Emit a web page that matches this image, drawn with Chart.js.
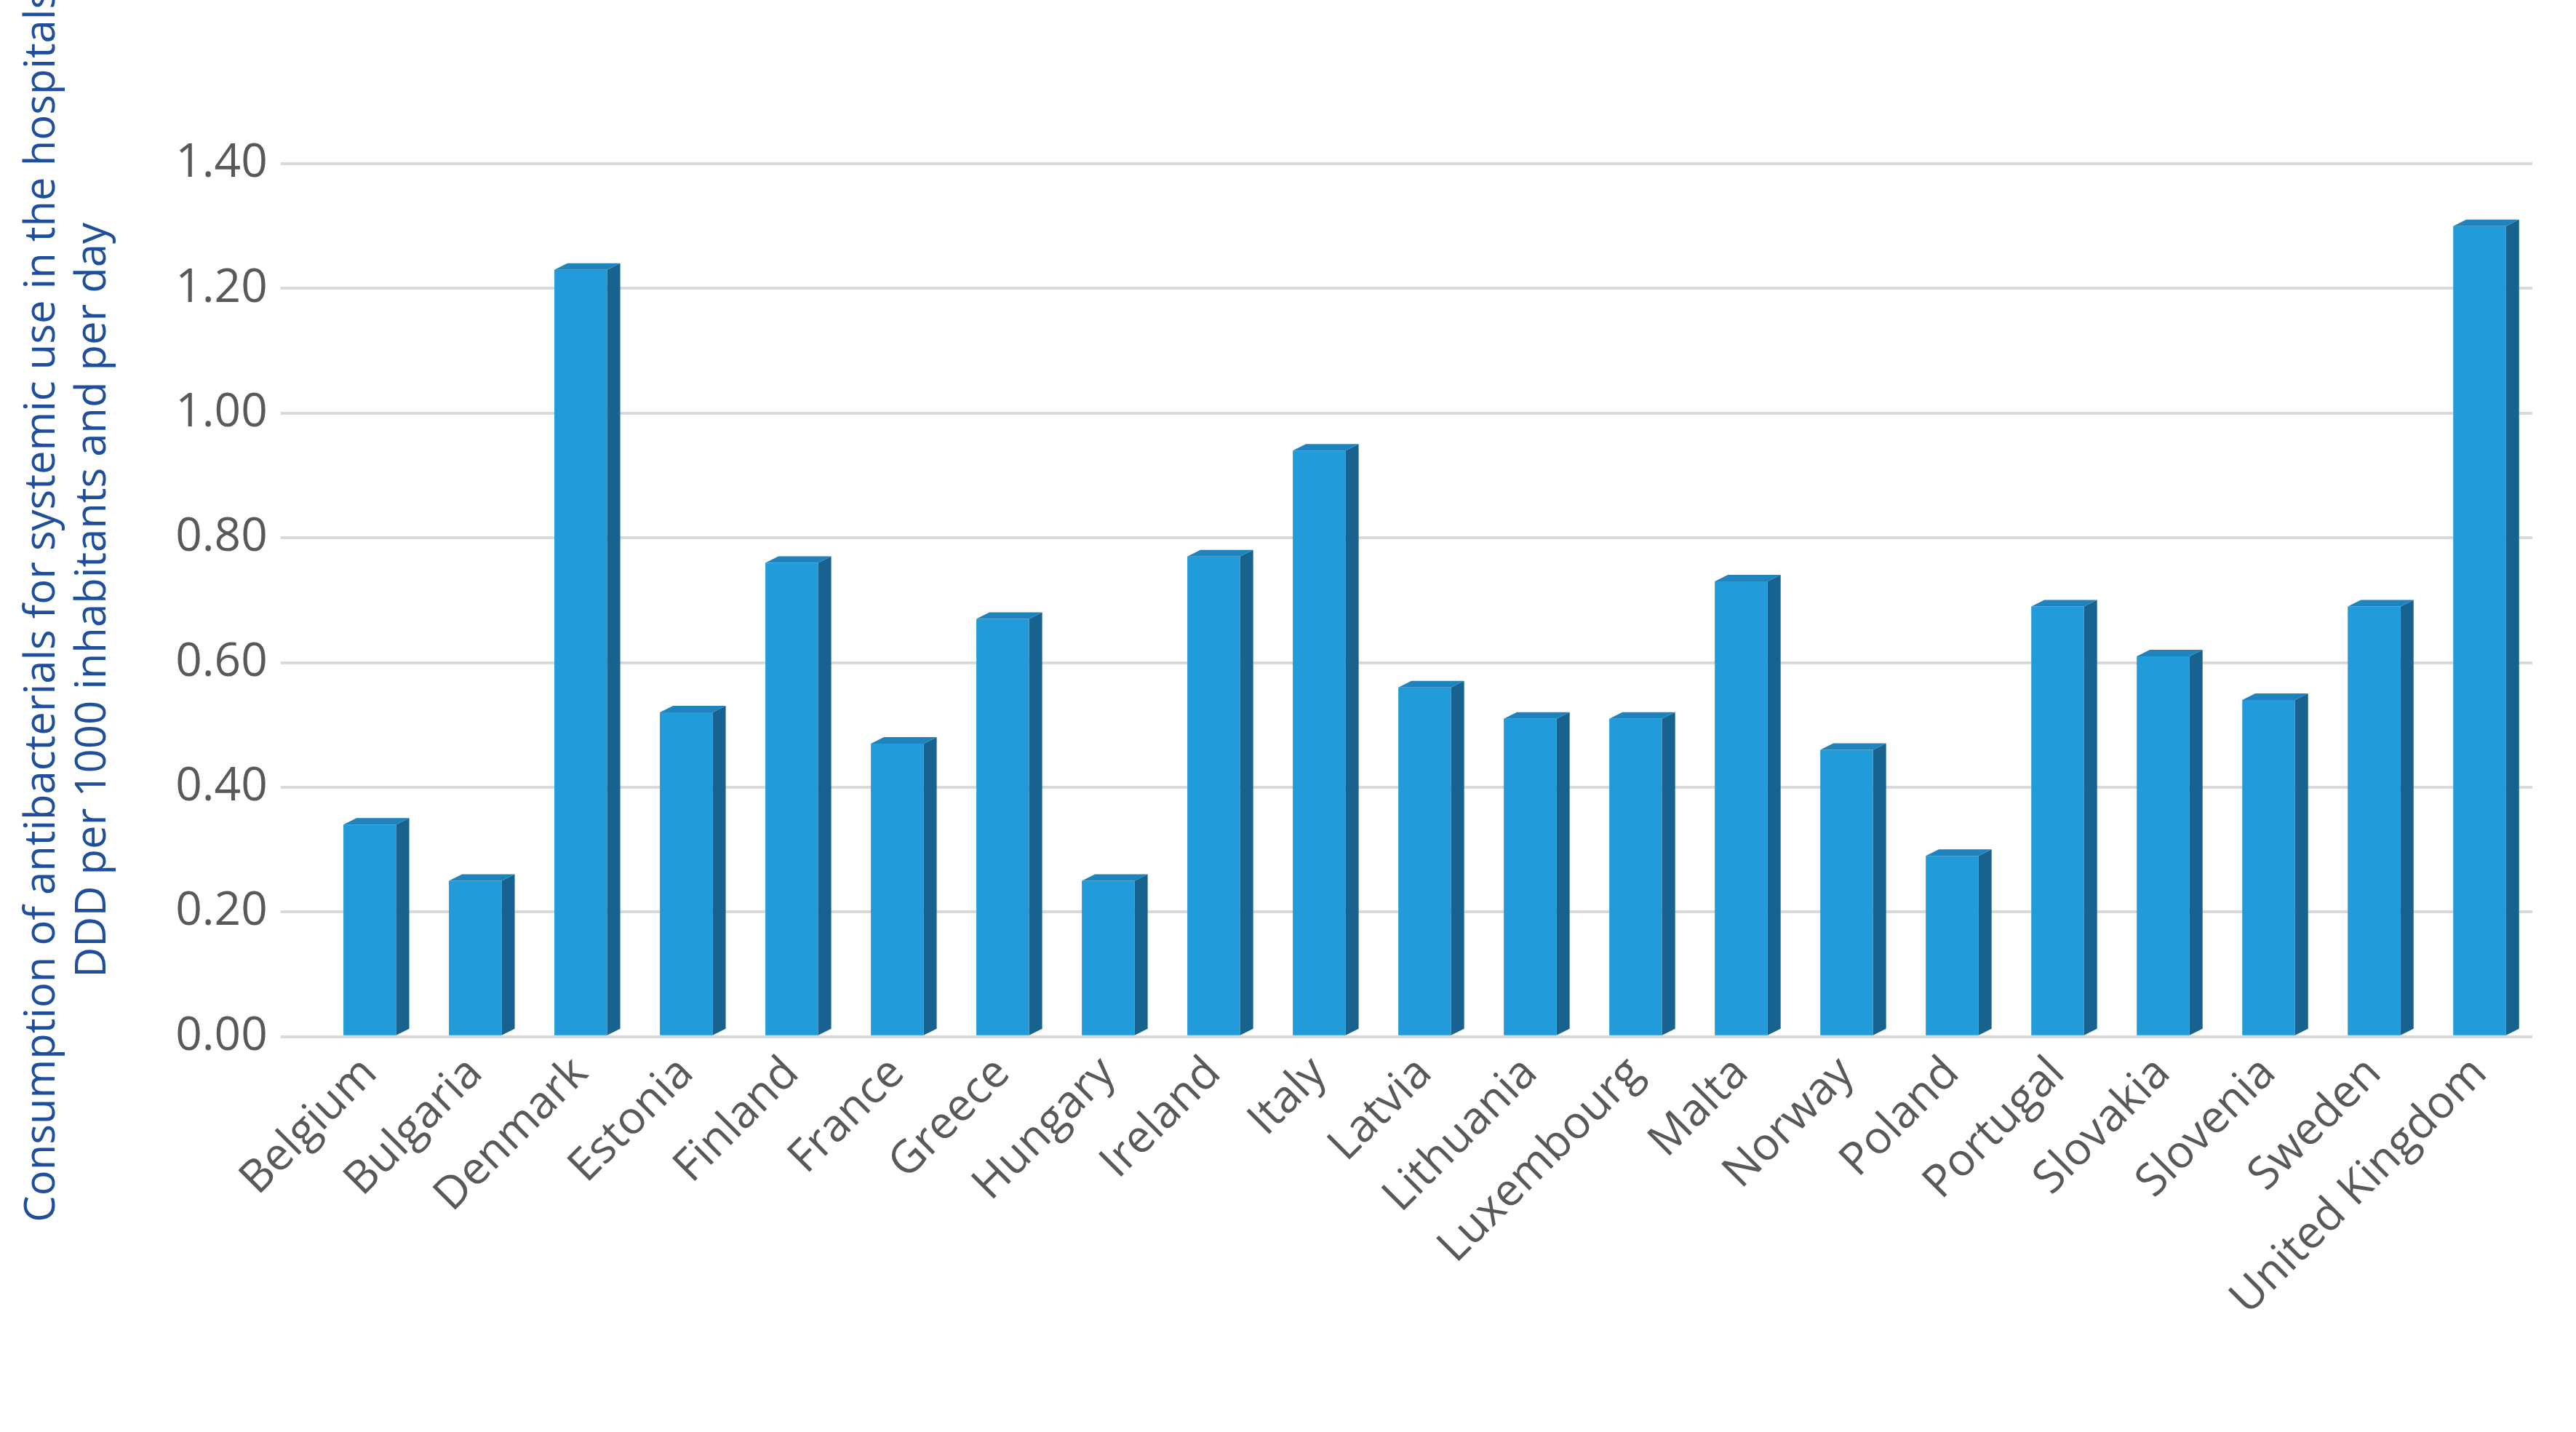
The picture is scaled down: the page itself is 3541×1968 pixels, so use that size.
<!DOCTYPE html>
<html><head><meta charset="utf-8">
<script src="https://cdn.jsdelivr.net/npm/chart.js@4/dist/chart.umd.min.js"></script>
<style>html,body{margin:0;background:#fff}#w{width:3541px;height:1968px}</style>
</head><body><div id="w"><canvas id="c"></canvas></div>
<script>
const categories=["Belgium","Bulgaria","Denmark","Estonia","Finland","France","Greece","Hungary","Ireland","Italy","Latvia","Lithuania","Luxembourg","Malta","Norway","Poland","Portugal","Slovakia","Slovenia","Sweden","United Kingdom"];
const values=[0.34,0.25,1.23,0.52,0.76,0.47,0.67,0.25,0.77,0.94,0.56,0.51,0.51,0.73,0.46,0.29,0.69,0.61,0.54,0.69,1.30];
const yTicks=[0,0.2,0.4,0.6,0.8,1.0,1.2,1.4];
const D=18;
const bar3d={id:'bar3d',afterDatasetsDraw(ch){const ctx=ch.ctx;ch.getDatasetMeta(0).data.forEach(b=>{const w=b.width,l=b.x-w/2,r=b.x+w/2,t=b.y,bt=b.base;ctx.save();ctx.fillStyle='#17628f';ctx.beginPath();ctx.moveTo(r,t);ctx.lineTo(r+D,t-D*0.5);ctx.lineTo(r+D,bt-D*0.5);ctx.lineTo(r,bt);ctx.closePath();ctx.fill();ctx.fillStyle='#1f83bd';ctx.beginPath();ctx.moveTo(l,t);ctx.lineTo(l+D,t-D*0.5);ctx.lineTo(r+D,t-D*0.5);ctx.lineTo(r,t);ctx.closePath();ctx.fill();ctx.restore();});}};
new Chart(document.getElementById('c'),{type:'bar',data:{labels:categories,datasets:[{data:values,backgroundColor:'#229bdb',barPercentage:0.5,categoryPercentage:1}]},
options:{responsive:true,maintainAspectRatio:false,animation:false,layout:{padding:{left:20,right:60,top:225,bottom:140}},
plugins:{legend:{display:false},tooltip:{enabled:false}},
scales:{y:{min:0,max:1.4,afterBuildTicks(s){s.ticks=yTicks.map(v=>({value:v}));},border:{display:false},grid:{color:'#d9d9d9',lineWidth:4,tickLength:50},
ticks:{font:{family:'Open Sans',size:64},color:'#595959',padding:18,callback:v=>v.toFixed(2)},
title:{display:true,text:['Consumption of antibacterials for systemic use in the hospitals,','DDD per 1000 inhabitants and per day'],font:{family:'Open Sans',size:58},color:'#1f4e9c',padding:{bottom:60}}},
x:{grid:{display:false},border:{display:false},ticks:{font:{family:'Open Sans',size:62},color:'#595959',minRotation:45,maxRotation:45,padding:6}}}},plugins:[bar3d]});
</script></body></html>
